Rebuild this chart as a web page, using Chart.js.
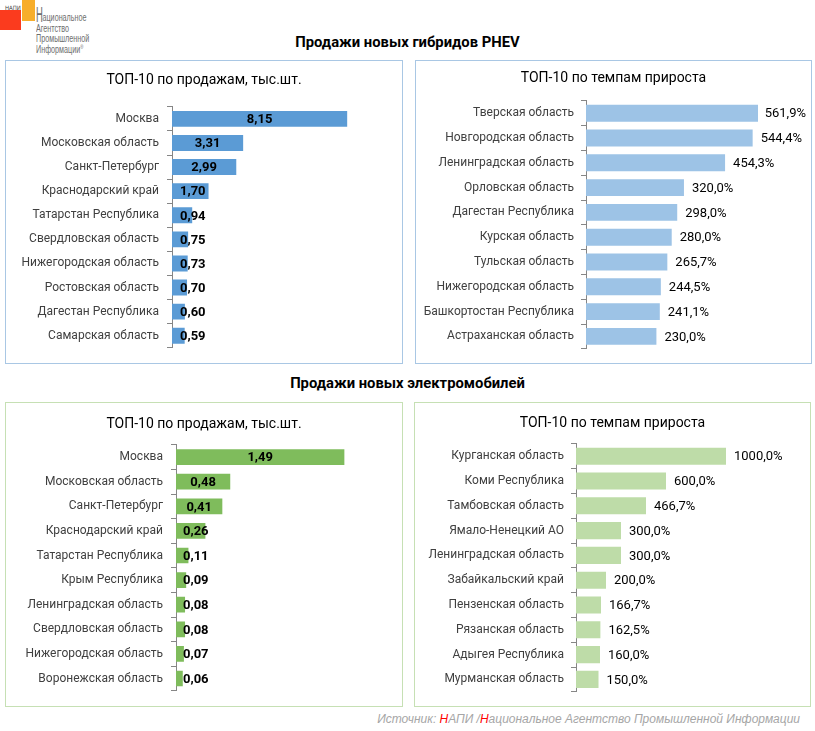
<!DOCTYPE html>
<html lang="ru">
<head>
<meta charset="utf-8">
<title>Продажи PHEV и электромобилей</title>
<script src="https://cdn.jsdelivr.net/npm/chart.js@4.4.1/dist/chart.umd.min.js"></script>
<style>
    body { margin: 0; width: 815px; height: 731px; position: relative; overflow: hidden; background: #fff; font-family: Roboto, sans-serif; }
    .panel { position: absolute; box-sizing: border-box; border: 1px solid #a9c7e4; }
    .panel.green { border-color: #c6e0b4; }
    .panel canvas { display: block; }
    .main-title { position: absolute; left: 0; width: 815px; text-align: center; font-weight: bold; font-size: 14.8px; color: #000; line-height: 18px; }
    .logo { position: absolute; left: 0; top: 0; width: 120px; height: 55px; }
    .logo .sq { position: absolute; }
    .logo .napi { position: absolute; left: 5px; top: 4px; font-size: 6px; color: #444; font-family: "DejaVu Sans Condensed", sans-serif; }
    .logo .txt { position: absolute; left: 36px; top: 6px; font-family: "Liberation Sans", sans-serif; font-size: 10px; line-height: 9.6px; color: #6e6e6e;
                 transform: scaleX(0.72); transform-origin: left top; white-space: nowrap; }
    .logo .big { display: inline-block; width: 9px; font-size: 22px; line-height: 18px; vertical-align: -1px; transform: scaleX(0.6); transform-origin: left center; }
    .source { position: absolute; right: 15px; top: 712px; font-family: "Liberation Sans", Arial, sans-serif; font-style: italic; font-size: 12px; color: #a6a6a6; white-space: nowrap; }
    .source .red { color: #ff0000; }
</style>
</head>
<body>

<div class="logo">
    <div class="sq" style="left:22px; top:0; width:13px; height:21px; background:#f7ae2c;"></div>
    <div class="sq" style="left:0; top:10px; width:21px; height:20px; background:#fb3b1e;"></div>
    <div class="napi">НАПИ</div>
    <div class="txt"><span class="big">Н</span>ациональное<br>Агентство<br>Промышленной<br>Информации<sup style="font-size:6px">®</sup></div>
</div>

<div class="main-title" style="top:33px;">Продажи новых гибридов PHEV</div>
<div class="main-title" style="top:374px;">Продажи новых электромобилей</div>

<div class="panel" style="left:5px; top:60px; width:398px; height:304px;"><canvas id="phevSales" width="396" height="302"></canvas></div>
<div class="panel" style="left:415px; top:60px; width:397px; height:304px;"><canvas id="phevGrowth" width="395" height="302"></canvas></div>
<div class="panel green" style="left:5px; top:402px; width:398px; height:305px;"><canvas id="evSales" width="396" height="303"></canvas></div>
<div class="panel green" style="left:414px; top:402px; width:397px; height:305px;"><canvas id="evGrowth" width="395" height="303"></canvas></div>

<div class="source">Источник: <span class="red">Н</span>АПИ /<span class="red">Н</span>ациональное Агентство Промышленной Информации</div>

<script>
// PHEV: sales, thousand units
const phevSalesRegions = ['Москва', 'Московская область', 'Санкт-Петербург', 'Краснодарский край', 'Татарстан Республика',
    'Свердловская область', 'Нижегородская область', 'Ростовская область', 'Дагестан Республика', 'Самарская область'];
const phevSalesValues = [8.15, 3.31, 2.99, 1.70, 0.94, 0.75, 0.73, 0.70, 0.60, 0.59];

// PHEV: growth rate, %
const phevGrowthRegions = ['Тверская область', 'Новгородская область', 'Ленинградская область', 'Орловская область', 'Дагестан Республика',
    'Курская область', 'Тульская область', 'Нижегородская область', 'Башкортостан Республика', 'Астраханская область'];
const phevGrowthValues = [561.9, 544.4, 454.3, 320.0, 298.0, 280.0, 265.7, 244.5, 241.1, 230.0];

// EV: sales, thousand units
const evSalesRegions = ['Москва', 'Московская область', 'Санкт-Петербург', 'Краснодарский край', 'Татарстан Республика',
    'Крым Республика', 'Ленинградская область', 'Свердловская область', 'Нижегородская область', 'Воронежская область'];
const evSalesValues = [1.49, 0.48, 0.41, 0.26, 0.11, 0.09, 0.08, 0.08, 0.07, 0.06];

// EV: growth rate, %
const evGrowthRegions = ['Курганская область', 'Коми Республика', 'Тамбовская область', 'Ямало-Ненецкий АО', 'Ленинградская область',
    'Забайкальский край', 'Пензенская область', 'Рязанская область', 'Адыгея Республика', 'Мурманская область'];
const evGrowthValues = [1000.0, 600.0, 466.7, 300.0, 300.0, 200.0, 166.7, 162.5, 160.0, 150.0];

const FONT = 'Roboto, sans-serif';

function fmt(v, digits, suffix) {
    return v.toFixed(digits).replace('.', ',') + (suffix || '');
}

// value labels: 'inside' = bold, centred in the bar but kept minOffset px off the axis;
// 'outside' = after the bar end, pulled back if it would leave the canvas
function valueLabels(mode, digits, suffix, minOffset) {
    return {
        id: 'valueLabels',
        afterDatasetsDraw(chart) {
            const ctx = chart.ctx;
            const meta = chart.getDatasetMeta(0);
            const values = chart.data.datasets[0].data;
            ctx.save();
            ctx.fillStyle = '#000';
            ctx.textBaseline = 'middle';
            ctx.textAlign = 'left';
            ctx.font = (mode === 'inside' ? 'bold ' : '') + '13px ' + FONT;
            meta.data.forEach((bar, i) => {
                const text = fmt(values[i], digits, suffix);
                const w = ctx.measureText(text).width;
                let x;
                if (mode === 'inside') {
                    const centre = Math.max((bar.x + bar.base) / 2, bar.base + minOffset + w / 2);
                    x = centre - w / 2;
                } else {
                    x = Math.min(bar.x + minOffset, chart.width - w - 5);
                }
                ctx.fillText(text, x, bar.y + 1);
            });
            ctx.restore();
        }
    };
}

function makeChart(id, cfg) {
    return new Chart(document.getElementById(id), {
        type: 'bar',
        data: {
            labels: cfg.labels,
            datasets: [{ data: cfg.values, backgroundColor: cfg.color, barPercentage: cfg.barPct, categoryPercentage: 1 }]
        },
        options: {
            indexAxis: 'y',
            responsive: false,
            animation: false,
            layout: { padding: { left: 0, right: 0, top: 0, bottom: cfg.padBottom } },
            plugins: {
                legend: { display: false },
                tooltip: { enabled: false },
                title: {
                    display: true,
                    text: cfg.title,
                    color: '#000',
                    font: { family: FONT, size: 14, weight: 'normal' },
                    padding: { top: cfg.titleTop, bottom: cfg.titleBottom }
                }
            },
            scales: {
                x: { display: false, min: 0, max: cfg.max },
                y: {
                    afterFit(scale) { scale.width = cfg.axisX; },
                    border: { display: true, color: '#868686' },
                    grid: { offset: true, drawOnChartArea: false, drawTicks: true, tickLength: 5, color: '#868686' },
                    ticks: { color: '#404040', padding: cfg.tickPad, font: { family: FONT, size: 12 } }
                }
            }
        },
        plugins: [valueLabels(cfg.mode, cfg.digits, cfg.suffix, cfg.offset)]
    });
}

makeChart('phevSales', {
    title: 'ТОП-10 по продажам, тыс.шт.', labels: phevSalesRegions, values: phevSalesValues,
    color: '#5b9bd5', max: 10.7, axisX: 166, padBottom: 15, titleTop: 11, titleBottom: 18,
    barPct: 0.66, tickPad: 8, mode: 'inside', digits: 2, suffix: '', offset: 8
});

makeChart('phevGrowth', {
    title: 'ТОП-10 по темпам прироста', labels: phevGrowthRegions, values: phevGrowthValues,
    color: '#9dc3e6', max: 735, axisX: 170, padBottom: 12, titleTop: 9, titleBottom: 14,
    barPct: 0.68, tickPad: 7, mode: 'outside', digits: 1, suffix: '%', offset: 8
});

makeChart('evSales', {
    title: 'ТОП-10 по продажам, тыс.шт.', labels: evSalesRegions, values: evSalesValues,
    color: '#7fbc5c', max: 2.0, axisX: 170, padBottom: 12, titleTop: 13, titleBottom: 12,
    barPct: 0.64, tickPad: 8, mode: 'inside', digits: 2, suffix: '', offset: 7
});

makeChart('evGrowth', {
    title: 'ТОП-10 по темпам прироста', labels: evGrowthRegions, values: evGrowthValues,
    color: '#bedca8', max: 1560, axisX: 161, padBottom: 12, titleTop: 12, titleBottom: 12,
    barPct: 0.69, tickPad: 7, mode: 'outside', digits: 1, suffix: '%', offset: 8
});
</script>
</body>
</html>
